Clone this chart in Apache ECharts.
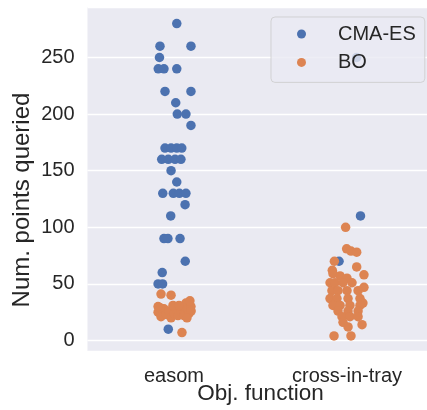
<!DOCTYPE html>
<html>
<head>
<meta charset="utf-8">
<script src="https://cdn.jsdelivr.net/npm/echarts@6/dist/echarts.min.js"></script>
<style>
  html, body { margin: 0; padding: 0; background: #ffffff; }
  #chart { width: 427px; height: 410px; }
</style>
</head>
<body>
<div id="chart"></div>
<script>
// Objective functions on the x axis
const categories = ['easom', 'cross-in-tray'];
const seriesNames = ['CMA-ES', 'BO'];
const yTicks = [0, 50, 100, 150, 200, 250];

// Points queried per run, with strip jitter (in category units)
const easomCmaValues = [280, 260, 260, 250, 240, 240, 240, 220, 220, 210, 200, 200, 190,
  170, 170, 170, 170, 160, 160, 160, 160, 150, 140, 130, 130, 130, 130, 120, 110,
  90, 90, 90, 70, 60, 50, 50, 10];
const easomCmaJitter = [0.016, -0.081, 0.098, -0.084, -0.091, -0.058, 0.016, -0.052, 0.098, 0.010, 0.019, 0.069, 0.098,
  -0.052, -0.017, 0.016, 0.045, -0.071, -0.033, 0.006, 0.040, -0.017, 0.016, -0.065, -0.004, 0.031, 0.069, 0.064, -0.019,
  -0.058, -0.035, 0.035, 0.065, -0.068, -0.092, -0.066, -0.033];

const crossCmaValues = [250, 110, 70];
const crossCmaJitter = [0.056, 0.078, -0.046];

const easomBoValues = [41, 40, 25, 21, 28, 23, 26, 20, 24, 28, 22, 26, 30, 22, 33, 27, 24, 30, 26, 29, 31, 31, 30, 20, 35, 7];
const easomBoJitter = [-0.075, -0.017, -0.092, -0.075, -0.058, -0.046, -0.029, -0.017, 0.000, 0.012, 0.023, 0.040, 0.052, 0.058, 0.069, 0.081, 0.087, 0.098, 0.099, -0.081, -0.006, 0.029, -0.092, 0.075, 0.092, 0.046];

const crossBoValues = [100, 81, 79, 78, 70, 65, 62, 58, 59, 57, 55, 51, 51, 51, 51, 47,
  44, 44, 44, 44, 37, 37, 37, 37, 33, 31, 31, 31, 31, 26, 26, 26, 21, 21, 21, 16, 12, 14, 4, 4];
const crossBoJitter = [-0.008, -0.002, 0.023, 0.056, -0.073, 0.056, -0.085, 0.098, -0.081, -0.040, 0.000, -0.098, -0.069, -0.023, 0.029, 0.098,
  -0.087, -0.052, 0.000, 0.064, -0.098, -0.058, 0.006, 0.075, 0.092, -0.081, -0.040, 0.017, 0.075, -0.052, 0.006, 0.064, -0.029, 0.017, 0.064, -0.023, 0.006, 0.087, -0.075, 0.023];

// Build [x, y] pairs: category index plus jitter, value
function strip(catIndex, values, jitter) {
  return values.map((v, i) => [catIndex + jitter[i], v]);
}

const cmaData = strip(0, easomCmaValues, easomCmaJitter).concat(strip(1, crossCmaValues, crossCmaJitter));
const boData = strip(0, easomBoValues, easomBoJitter).concat(strip(1, crossBoValues, crossBoJitter));

const textColor = '#262626';
const font = 'Liberation Sans, Arial, sans-serif';

const chart = echarts.init(document.getElementById('chart'), null, { renderer: 'canvas' });
chart.setOption({
  animation: false,
  backgroundColor: '#ffffff',
  textStyle: { fontFamily: font, color: textColor },
  grid: {
    show: true,
    left: 87.5,
    top: 7,
    width: 346,
    height: 344,
    backgroundColor: '#eaeaf2',
    borderWidth: 0,
    containLabel: false,
    outerBoundsMode: 'none'
  },
  legend: {
    data: seriesNames,
    orient: 'vertical',
    left: 271,
    top: 17,
    padding: [6, 9, 9, 26],
    itemWidth: 9,
    itemHeight: 9,
    itemGap: 6.4,
    icon: 'circle',
    backgroundColor: 'rgba(234,234,242,0.8)',
    borderColor: 'rgba(204,204,204,0.8)',
    borderWidth: 1,
    borderRadius: 4,
    textStyle: { fontSize: 20, color: textColor, fontFamily: font, lineHeight: 22, padding: [0, 0, 0, 27] }
  },
  xAxis: {
    type: 'value',
    min: -0.5,
    max: 1.5,
    interval: 0.5,
    name: 'Obj. function',
    nameLocation: 'middle',
    nameGap: 31,
    nameMoveOverlap: false,
    nameTextStyle: { fontSize: 22.5, color: textColor, fontFamily: font, verticalAlign: 'top' },
    axisLine: { show: false },
    axisTick: { show: false },
    splitLine: { show: false },
    axisLabel: {
      fontSize: 20,
      color: textColor,
      fontFamily: font,
      margin: 15,
      showMinLabel: false,
      showMaxLabel: false,
      formatter: function (v) {
        const idx = Math.round(v);
        return Math.abs(v - idx) < 1e-6 && categories[idx] !== undefined ? categories[idx] : '';
      }
    }
  },
  yAxis: {
    type: 'value',
    min: -9.3,
    max: 294.6,
    minInterval: 50,
    maxInterval: 50,
    name: 'Num. points queried',
    nameLocation: 'middle',
    nameGap: 53,
    nameMoveOverlap: false,
    nameTextStyle: { fontSize: 24, color: textColor, fontFamily: font, padding: [0, 42, 0, 0] },
    axisLine: { show: false },
    axisTick: { show: false },
    splitLine: { show: true, lineStyle: { color: '#ffffff', width: 1.3 } },
    axisLabel: {
      fontSize: 20,
      color: textColor,
      fontFamily: font,
      margin: 13,
      showMinLabel: false,
      showMaxLabel: false,
      formatter: function (v) {
        return yTicks.indexOf(v) >= 0 ? String(v) : '';
      }
    }
  },
  series: [
    {
      name: seriesNames[0],
      type: 'scatter',
      data: cmaData,
      symbolSize: 9.5,
      itemStyle: { color: '#4c72b0', opacity: 1 }
    },
    {
      name: seriesNames[1],
      type: 'scatter',
      data: boData,
      symbolSize: 9.5,
      itemStyle: { color: '#dd8452', opacity: 1 }
    }
  ]
});
</script>
</body>
</html>
